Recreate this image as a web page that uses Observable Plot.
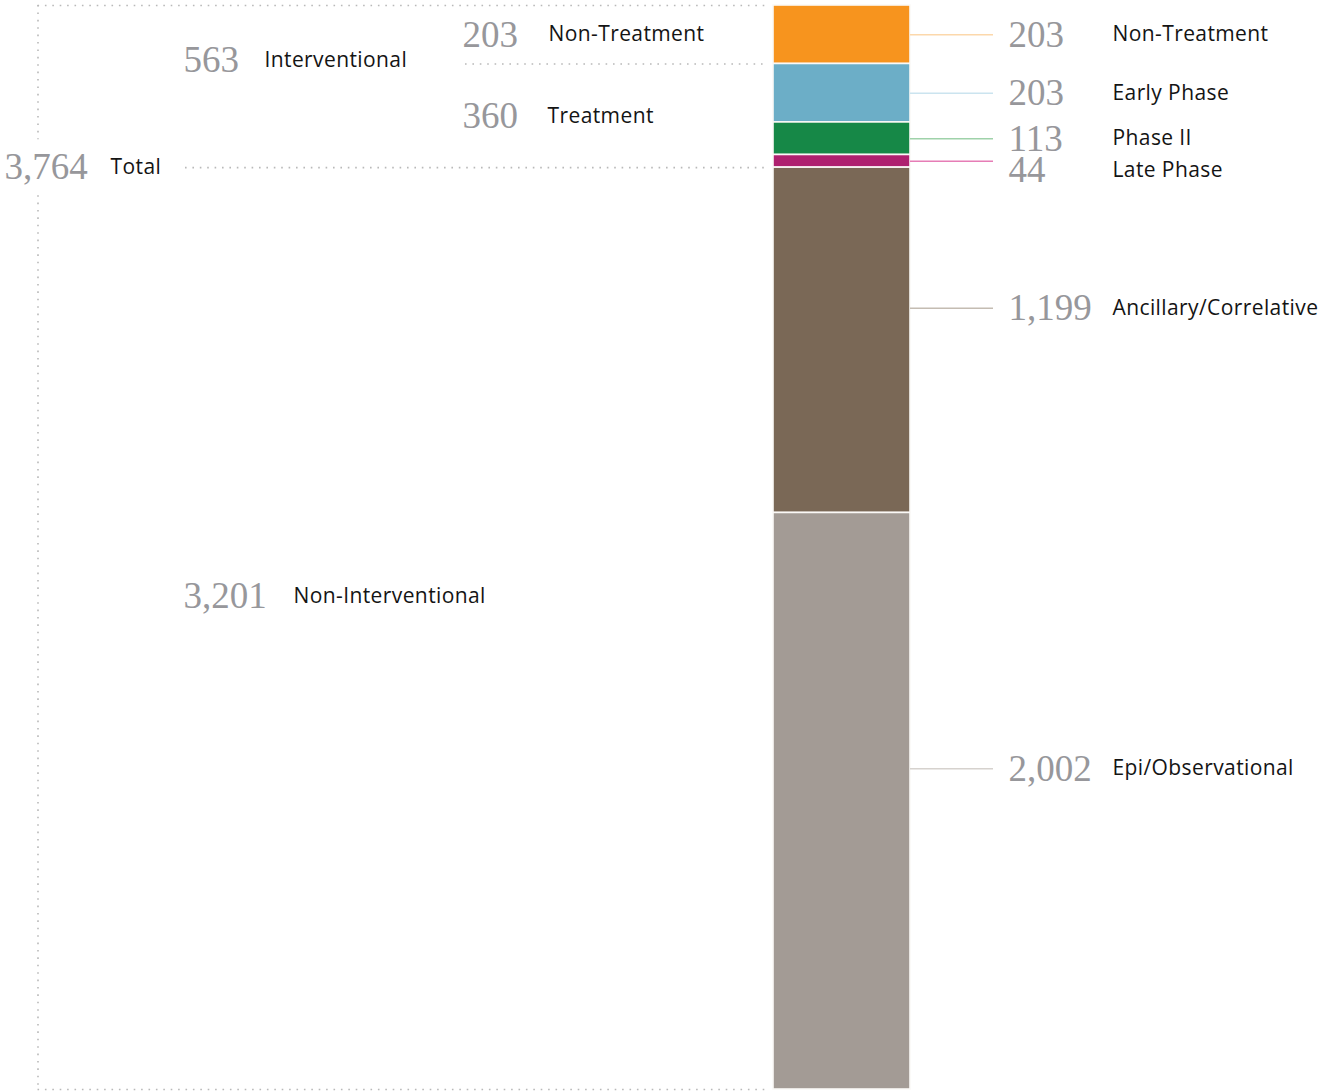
<!DOCTYPE html>
<html><head><meta charset="utf-8">
<script src="https://cdn.jsdelivr.net/npm/d3@7"></script>
<script src="https://cdn.jsdelivr.net/npm/@observablehq/plot@0.6"></script>
<style>
html,body{margin:0;padding:0;background:#fff}
g[font-family^="Open Sans"] text{letter-spacing:0.4px}
</style>
</head><body><div id="chart"></div>
<script>
// ---- data ----
const categories = ["Non-Treatment", "Early Phase", "Phase II", "Late Phase", "Ancillary/Correlative", "Epi/Observational"];
const values = [203, 203, 113, 44, 1199, 2002];
const valueLabels = ["203", "203", "113", "44", "1,199", "2,002"];
const barColors = ["#f7941e", "#6caec7", "#168847", "#ae206f", "#7a6856", "#a39b95"];
const connectorColors = ["#fcd8ab", "#cbe4ef", "#9fd2aa", "#e67db6", "#c4bcb2", "#d6d2ce"];

const groupNames = ["Interventional", "Non-Treatment", "Treatment", "Non-Interventional", "Total"];
const groupValues = [563, 203, 360, 3201, 3764];
const groupLabels = ["563", "203", "360", "3,201", "3,764"];

// ---- derived ----
const total = d3.sum(values);
const ends = d3.cumsum(values);
const segs = categories.map((c, i) => ({
  category: c, value: values[i], label: valueLabels[i],
  y1: ends[i] - values[i], y2: ends[i],
  fill: barColors[i], line: connectorColors[i]
}));
const interventionalEnd = ends[3];
const groupExtent = {
  "Interventional": [0, interventionalEnd],
  "Non-Treatment": [0, ends[0]],
  "Treatment": [ends[0], interventionalEnd],
  "Non-Interventional": [interventionalEnd, total],
  "Total": [interventionalEnd, interventionalEnd]
};

// ---- layout (pixels / fractions, not data) ----
const W = 1330, H = 1092;
const yTop = 5, yBot = 1089;
const pxPerUnit = (yBot - yTop) / total;
const barX1 = 773, barX2 = 910;
const connX1 = 910, connX2 = 993, rNumX = 1008, rLabX = 1112;
const rightFrac = [0.5, 0.5, 0.5, 0.5, 0.407, 0.4436];
const rightTextShiftPx = [0, 0, 0, 9, 0, 0];   // Late Phase text nudged below its connector
const leftLayout = {
  "Interventional": {numX: 183, labX: 264, frac: 0.339},
  "Non-Treatment": {numX: 462, labX: 548, frac: 0.5},
  "Treatment": {numX: 462, labX: 547, frac: 0.5},
  "Non-Interventional": {numX: 183, labX: 293, frac: 0.465},
  "Total": {numX: 4, labX: 110, frac: 0}
};
const bracketX = 37.5, dotEnd = 766;

const rightRows = segs.map((s, i) => {
  const ly = s.y1 + rightFrac[i] * s.value;
  return {...s, ly, ty: ly + rightTextShiftPx[i] / pxPerUnit};
});
const leftRows = groupNames.map((g, i) => {
  const [a, b] = groupExtent[g];
  const L = leftLayout[g];
  return {name: g, label: groupLabels[i], y: a + L.frac * (b - a), numX: L.numX, labX: L.labX};
});

const gapHalf = 28 / pxPerUnit;

const numFont = {fontFamily: "Liberation Serif, serif", fontSize: 37, fill: "#97979b", textAnchor: "start", lineAnchor: "middle"};
const labFont = {fontFamily: "Open Sans, sans-serif", fontSize: 21, fill: "#141414", textAnchor: "start", lineAnchor: "middle"};
const dotted = {stroke: "#b9b9b9", strokeWidth: 1.6, strokeDasharray: "1.6,5.8"};

const chart = Plot.plot({
  width: W, height: H,
  margin: 0,
  x: {domain: [0, W], range: [0, W], axis: null},
  y: {domain: [0, total], range: [yTop, yBot], axis: null},
  style: {background: "#fff", overflow: "visible"},
  marks: [
    // dotted brackets
    Plot.ruleY([0, total], {y: d => d, x1: bracketX, x2: dotEnd, ...dotted}),
    Plot.ruleX([[0, interventionalEnd - gapHalf], [interventionalEnd + gapHalf, total]], {x: bracketX, y1: d => d[0], y2: d => d[1], ...dotted}),
    Plot.ruleY([interventionalEnd], {y: d => d, x1: 185, x2: dotEnd, ...dotted}),
    Plot.ruleY([ends[0]], {y: d => d, x1: 465, x2: dotEnd, ...dotted}),
    // stacked bar
    Plot.rect(segs, {x1: barX1, x2: barX2, y1: "y1", y2: "y2", fill: "fill", stroke: "#fbf9f7", strokeWidth: 1.6}),
    // connectors
    Plot.ruleY(rightRows, {y: "ly", x1: connX1, x2: connX2, stroke: "line", strokeWidth: 1.4}),
    // right labels
    Plot.text(rightRows, {x: rNumX, y: "ty", text: "label", ...numFont}),
    Plot.text(rightRows, {x: rLabX, y: "ty", text: "category", ...labFont}),
    // left labels
    Plot.text(leftRows, {x: "numX", y: "y", text: "label", ...numFont}),
    Plot.text(leftRows, {x: "labX", y: "y", text: "name", ...labFont})
  ]
});
document.getElementById("chart").appendChild(chart);
</script>
</body></html>
